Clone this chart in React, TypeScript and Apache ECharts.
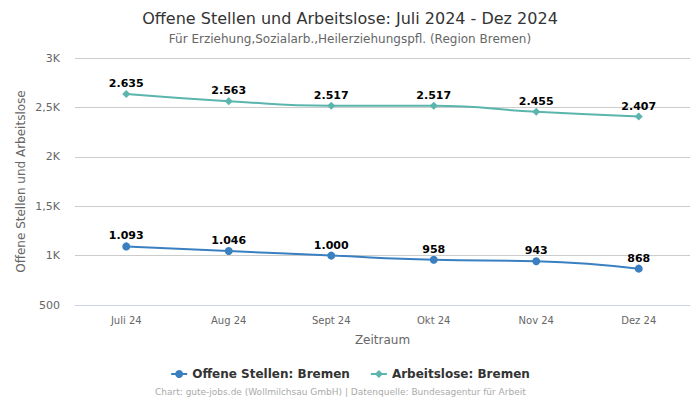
import React, { useEffect, useRef } from "react";
import * as echarts from "echarts";

const categories = ["Juli 24", "Aug 24", "Sept 24", "Okt 24", "Nov 24", "Dez 24"];
const offeneStellen = [1093, 1046, 1000, 958, 943, 868];
const arbeitslose = [2635, 2563, 2517, 2517, 2455, 2407];

const fmtDe = (v: number) => v.toLocaleString("de-DE");
const fmtAxis = (v: number) => (v >= 1000 ? String(v / 1000).replace(".", ",") + "K" : String(v));

const FONT = "DejaVu Sans";

export default function App() {
  const ref = useRef<HTMLDivElement>(null);
  useEffect(() => {
    const chart = echarts.init(ref.current!, undefined, { renderer: "svg" });
    chart.setOption({
      animation: false,
      textStyle: { fontFamily: FONT },
      title: {
        text: "Offene Stellen und Arbeitslose: Juli 2024 - Dez 2024",
        subtext: "Für Erziehung,Sozialarb.,Heilerziehungspfl. (Region Bremen)",
        left: "center",
        top: 5,
        itemGap: 7,
        textStyle: { fontFamily: FONT, fontSize: 16, fontWeight: "normal", color: "#333" },
        subtextStyle: { fontFamily: FONT, fontSize: 12, color: "#666" },
      },
      legend: {
        bottom: 15,
        left: "center",
        itemGap: 20,
        itemWidth: 16,
        itemHeight: 10,
        textStyle: { fontFamily: FONT, fontSize: 12, fontWeight: "bold", color: "#333" },
        data: ["Offene Stellen: Bremen", "Arbeitslose: Bremen"],
      },
      graphic: [
        {
          type: "text",
          left: 155,
          top: 387,
          style: {
            text: "Chart: gute-jobs.de (Wollmilchsau GmbH) | Datenquelle: Bundesagentur für Arbeit",
            fontFamily: FONT,
            fontSize: 9,
            fill: "#aaa",
          },
        },
      ],
      grid: { left: 75, right: 10, top: 58, bottom: 95 },
      xAxis: {
        type: "category",
        data: categories,
        boundaryGap: true,
        name: "Zeitraum",
        nameLocation: "middle",
        nameGap: 29,
        nameTextStyle: { fontFamily: FONT, fontSize: 12, color: "#666" },
        axisLine: { show: true, lineStyle: { color: "#ccd6eb" } },
        axisTick: { show: false },
        axisLabel: { fontFamily: FONT, fontSize: 10, color: "#666", margin: 10 },
      },
      yAxis: {
        type: "value",
        min: 500,
        max: 3000,
        interval: 500,
        name: "Offene Stellen und Arbeitslose",
        nameLocation: "middle",
        nameGap: 48,
        nameMoveOverlap: false,
        nameTextStyle: { fontFamily: FONT, fontSize: 12, color: "#666" },
        axisLabel: { fontFamily: FONT, fontSize: 11, color: "#666", formatter: fmtAxis, margin: 15 },
        splitLine: { lineStyle: { color: "#ccc" } },
        axisLine: { show: false },
        axisTick: { show: false },
      },
      series: [
        {
          name: "Offene Stellen: Bremen",
          type: "line",
          smooth: true,
          data: offeneStellen,
          symbol: "circle",
          symbolSize: 8,
          itemStyle: { color: "#3a80c0" },
          lineStyle: { width: 2, color: "#3a80c0" },
          label: {
            show: true,
            position: "top",
            distance: 1,
            formatter: (p: any) => fmtDe(p.value),
            fontFamily: FONT,
            fontSize: 11,
            fontWeight: "bold",
            color: "#000",
          },
        },
        {
          name: "Arbeitslose: Bremen",
          type: "line",
          smooth: true,
          data: arbeitslose,
          symbol: "diamond",
          symbolSize: 8,
          itemStyle: { color: "#5ab5ad" },
          lineStyle: { width: 2, color: "#5ab5ad" },
          label: {
            show: true,
            position: "top",
            distance: 1,
            formatter: (p: any) => fmtDe(p.value),
            fontFamily: FONT,
            fontSize: 11,
            fontWeight: "bold",
            color: "#000",
          },
        },
      ],
    });
    return () => chart.dispose();
  }, []);
  return <div ref={ref} style={{ width: 700, height: 400, position: "absolute", left: 0, top: 0 }} />;
}
